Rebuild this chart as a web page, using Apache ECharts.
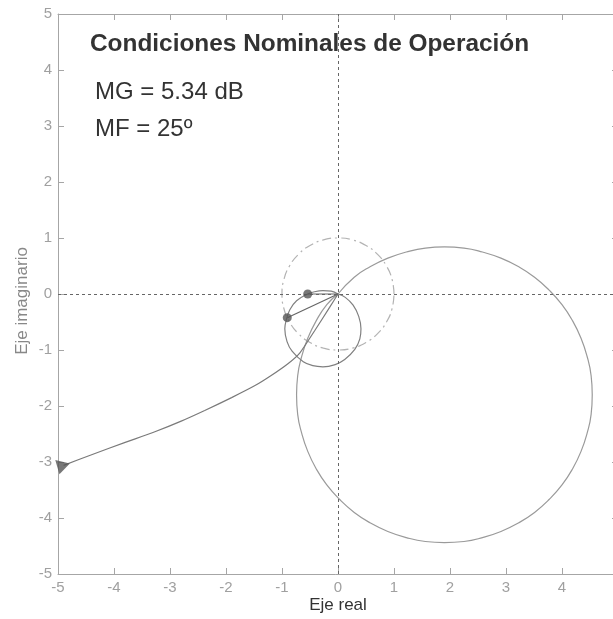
<!DOCTYPE html>
<html>
<head>
<meta charset="utf-8">
<script src="https://cdn.jsdelivr.net/npm/echarts@6/dist/echarts.min.js"></script>
<style>
html,body{margin:0;padding:0;background:#fff;}
#c{width:613px;height:619px;}
</style>
</head>
<body>
<div id="c"></div>
<script>
// ---- data ----
var titleText = 'Condiciones Nominales de Operación';
var mgText = 'MG = 5.34 dB';
var mfText = 'MF = 25º';
var xName = 'Eje real';
var yName = 'Eje imaginario';

// long branch (from the arrow to the origin)
var armPts = [[-4.9,-3.06],[-4.4,-2.87],[-3.8,-2.65],[-3.27,-2.46],[-2.8,-2.27],[-2.38,-2.08],
  [-1.9,-1.85],[-1.49,-1.64],[-1.2,-1.46],[-0.9,-1.25],[-0.68,-1.05],[-0.42,-0.66],[-0.15,-0.24],[0,0]];

// big loop
var bigLoop = [[0,0],[0.29,0.3],[0.58,0.49],[0.89,0.64],[1.22,0.75],[1.56,0.82],[1.9,0.84],[2.25,0.82],
  [2.58,0.75],[2.91,0.64],[3.22,0.49],[3.51,0.3],[3.77,0.07],[4.0,-0.19],[4.19,-0.48],[4.34,-0.79],
  [4.45,-1.12],[4.52,-1.46],[4.54,-1.8],[4.52,-2.15],[4.45,-2.48],[4.34,-2.81],[4.19,-3.12],[4.0,-3.41],
  [3.77,-3.67],[3.51,-3.9],[3.22,-4.09],[2.91,-4.24],[2.58,-4.35],[2.25,-4.42],[1.9,-4.44],[1.56,-4.42],
  [1.22,-4.35],[0.89,-4.24],[0.58,-4.09],[0.29,-3.9],[0.03,-3.67],[-0.2,-3.41],[-0.39,-3.12],[-0.54,-2.81],
  [-0.65,-2.48],[-0.72,-2.15],[-0.74,-1.8],[-0.72,-1.46],[-0.65,-1.12],[-0.54,-0.79],[-0.39,-0.48],
  [-0.2,-0.19],[0,0]];

// small loop
var smallLoop = [[0,0],[-0.12,0.05],[-0.27,0.06],[-0.42,0.04],[-0.54,0],[-0.74,-0.12],[-0.86,-0.28],
  [-0.92,-0.45],[-0.95,-0.62],[-0.91,-0.85],[-0.82,-1.02],[-0.62,-1.21],[-0.45,-1.28],[-0.27,-1.3],
  [-0.05,-1.26],[0.12,-1.17],[0.3,-0.99],[0.39,-0.8],[0.41,-0.62],[0.37,-0.4],[0.27,-0.2],[0.13,-0.06],[0,0]];

// unit circle (reference)
var unitCircle = [[1,0],[0.966,0.259],[0.866,0.5],[0.707,0.707],[0.5,0.866],[0.259,0.966],[0,1],
  [-0.259,0.966],[-0.5,0.866],[-0.707,0.707],[-0.866,0.5],[-0.966,0.259],[-1,0],[-0.966,-0.259],
  [-0.866,-0.5],[-0.707,-0.707],[-0.5,-0.866],[-0.259,-0.966],[0,-1],[0.259,-0.966],[0.5,-0.866],
  [0.707,-0.707],[0.866,-0.5],[0.966,-0.259],[1,0]];

// margin points
var origin = [0,0];
var gmPoint = [-0.541,0];
var pmPoint = [-0.906,-0.423];
var arrowPoint = [-4.9,-3.06];

var xRange = [-5,5];
var yRange = [-5,5];
var tickStep = 1;

// ---- chart ----
var chart = echarts.init(document.getElementById('c'), null, {renderer:'canvas'});
var axisGray = '#a6a6a6';
var labelGray = '#a0a0a0';
var font = 'Liberation Sans';

function baseAxis(extra){
  return Object.assign({
    type:'value', min:0, max:0, interval:tickStep,
    axisLine:{show:true, onZero:false, lineStyle:{color:axisGray, width:1}},
    axisTick:{show:true, inside:true, length:6, lineStyle:{color:axisGray}},
    splitLine:{show:false}
  }, extra);
}

var option = {
  animation:false,
  backgroundColor:'#fff',
  grid:{left:58, top:14, width:560, height:560, containLabel:false, outerBoundsMode:'none'},
  xAxis:[
    baseAxis({min:xRange[0], max:xRange[1], position:'bottom',
      axisLabel:{color:labelGray, fontSize:15, fontFamily:font, margin:6, showMinLabel:true, showMaxLabel:true},
      name:xName, nameLocation:'middle', nameGap:23, nameMoveOverlap:false,
      nameTextStyle:{color:'#333', fontSize:17, fontFamily:font, verticalAlign:'top'}}),
    baseAxis({min:xRange[0], max:xRange[1], position:'top', axisLabel:{show:false}})
  ],
  yAxis:[
    baseAxis({min:yRange[0], max:yRange[1], position:'left',
      axisLabel:{color:labelGray, fontSize:15, fontFamily:font, margin:6, showMinLabel:true, showMaxLabel:true},
      name:yName, nameLocation:'middle', nameGap:27, nameRotate:90, nameMoveOverlap:false,
      nameTextStyle:{color:'#888', fontSize:17, fontFamily:font, padding:[0,14,0,0]}}),
    baseAxis({min:yRange[0], max:yRange[1], position:'right', axisLabel:{show:false}})
  ],
  series:[
    {type:'line', data:unitCircle, smooth:0.5, showSymbol:false, silent:true,
      lineStyle:{color:'#b3b3b3', width:1.2, type:[9,4,2,4]}, z:2,
      markLine:{silent:true, symbol:'none', label:{show:false},
        lineStyle:{color:'#666', width:1, type:[3,3]},
        data:[{yAxis:0},{xAxis:0}]}},
    {type:'line', data:bigLoop, smooth:0.5, showSymbol:false, silent:true,
      lineStyle:{color:'#9a9a9a', width:1.2}, z:3},
    {type:'line', data:smallLoop, smooth:0.4, showSymbol:false, silent:true,
      lineStyle:{color:'#808080', width:1.2}, z:3},
    {type:'line', data:armPts, smooth:0.2, showSymbol:false, silent:true,
      lineStyle:{color:'#7a7a7a', width:1.2}, z:3},
    {type:'line', data:[origin, pmPoint], showSymbol:false, silent:true,
      lineStyle:{color:'#666', width:1.2}, z:4},
    {type:'line', data:[origin, gmPoint], showSymbol:false, silent:true,
      lineStyle:{color:'#666', width:1.2}, z:4},
    {type:'scatter', data:[gmPoint, pmPoint], symbol:'circle', symbolSize:9, silent:true,
      itemStyle:{color:'#555'}, z:5},
    {type:'scatter', data:[arrowPoint], symbol:'triangle', symbolSize:[15,13], symbolRotate:-74,
      silent:true, clip:false, itemStyle:{color:'#555'}, z:5}
  ],
  graphic:[
    {type:'text', x:90, y:44, style:{text:titleText, fontSize:24.4, fontWeight:'bold', fontFamily:font, fill:'#333', verticalAlign:'middle'}},
    {type:'text', x:95, y:92, style:{text:mgText, fontSize:24, fontFamily:font, fill:'#333', verticalAlign:'middle'}},
    {type:'text', x:95, y:129, style:{text:mfText, fontSize:24, fontFamily:font, fill:'#333', verticalAlign:'middle'}}
  ]
};
chart.setOption(option);
</script>
</body>
</html>
